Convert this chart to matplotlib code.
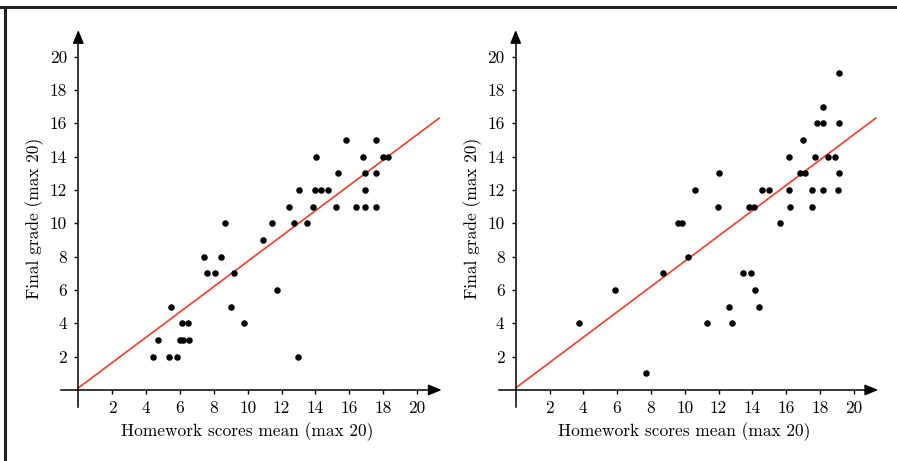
import matplotlib
matplotlib.use("Agg")
import matplotlib.pyplot as plt
from matplotlib.lines import Line2D

# left panel: homework mean vs final grade
hw_left = [4.4, 4.7, 5.35, 5.8, 5.5, 6.0, 6.15, 6.2, 6.45, 6.55, 7.45, 7.6, 8.05, 8.45, 8.65,
           9.2, 9.0, 9.8, 11.7, 12.95, 10.9, 11.45, 12.75, 13.5, 12.45, 13.85, 15.2, 16.4,
           16.95, 17.6, 13.05, 13.95, 14.35, 14.75, 16.9, 14.05, 15.35, 16.9, 17.6, 16.8,
           18.0, 18.3, 15.8, 17.55]
final_left = [2, 3, 2, 2, 5, 3, 4, 3, 4, 3, 8, 7, 7, 8, 10,
              7, 5, 4, 6, 2, 9, 10, 10, 10, 11, 11, 11, 11,
              11, 11, 12, 12, 12, 12, 12, 14, 13, 13, 13, 14,
              14, 14, 15, 15]

# right panel
hw_right = [3.75, 5.9, 7.7, 8.7, 9.6, 9.85, 10.2, 10.6, 12.05, 11.95, 13.45, 13.9, 14.15,
            12.6, 14.4, 11.3, 12.8, 13.8, 14.1, 14.6, 15.0, 15.65, 16.15, 16.25, 16.15,
            17.0, 16.85, 17.1, 17.55, 17.55, 17.7, 17.8, 18.2, 18.2, 18.2, 18.45, 18.9,
            19.15, 19.1, 19.15, 19.15]
final_right = [4, 6, 1, 7, 10, 10, 8, 12, 13, 11, 7, 7, 6,
               5, 5, 4, 4, 11, 11, 12, 12, 10, 12, 11, 14,
               15, 13, 13, 12, 11, 14, 16, 16, 17, 12, 14, 14,
               13, 12, 16, 19]

# fitted line (intercept, slope) and its x extent
fit_intercept = 0.12
fit_slope = 0.76
fit_x = [0, 21.3]

ticks = [2, 4, 6, 8, 10, 12, 14, 16, 18, 20]
xlabel = "Homework scores mean (max 20)"
ylabel = "Final grade (max 20)"

plt.rcParams["font.family"] = ["cmr10", "DejaVu Serif"]
plt.rcParams["axes.formatter.use_mathtext"] = True
FS = 12.5

fig = plt.figure(figsize=(8.97, 4.61), dpi=100)

# frame of the original picture (top and left edges only visible)
fig.add_artist(Line2D([0.0, 1.0], [1 - 7 / 461, 1 - 7 / 461], color="#222222", lw=2.2,
                      transform=fig.transFigure))
fig.add_artist(Line2D([5 / 897, 5 / 897], [0.0, 1 - 7 / 461], color="#222222", lw=2.2,
                      transform=fig.transFigure))


def panel(rect, xs, ys):
    ax = fig.add_axes(rect)
    ax.set_xlim(-2, 22)
    ax.set_ylim(-2, 22.5)
    for s in ("top", "right"):
        ax.spines[s].set_visible(False)
    for s in ("left", "bottom"):
        ax.spines[s].set_position(("data", 0))
        ax.spines[s].set_linewidth(1.1)
    ax.spines["bottom"].set_bounds(-1, 21.0)
    ax.spines["left"].set_bounds(-1, 21.1)
    ax.patch.set_alpha(0)

    arr = dict(arrowstyle="-|>,head_length=0.8,head_width=0.33", color="black",
               lw=1.1, shrinkA=0, shrinkB=0)
    ax.annotate("", xy=(21.45, 0), xytext=(20.9, 0), arrowprops=arr)
    ax.annotate("", xy=(0, 21.6), xytext=(0, 21.0), arrowprops=arr)

    ax.set_xticks(ticks, [str(t) for t in ticks])
    ax.set_yticks(ticks, [str(t) for t in ticks])
    ax.tick_params(direction="out", length=3, width=1, labelsize=FS, pad=5)

    ax.plot(fit_x, [fit_intercept + fit_slope * v for v in fit_x], color="#e8402a", lw=1.2,
            zorder=2)
    ax.scatter(xs, ys, s=22, color="black", zorder=3, linewidths=0)

    ax.text(10, -2.5, xlabel, ha="center", va="center", fontsize=FS, clip_on=False)
    ax.text(-2.55, 10.3, ylabel, ha="center", va="center", rotation=90, fontsize=FS,
            clip_on=False)
    return ax


# axes placed so data origin lands where the reference's axes cross
panel([44.4 / 897, (461 - 423.3) / 461, 406.6 / 897, 408.3 / 461], hw_left, final_left)
panel([481.9 / 897, (461 - 423.3) / 461, 405.6 / 897, 408.3 / 461], hw_right, final_right)

fig.savefig("out.png", dpi=100)
